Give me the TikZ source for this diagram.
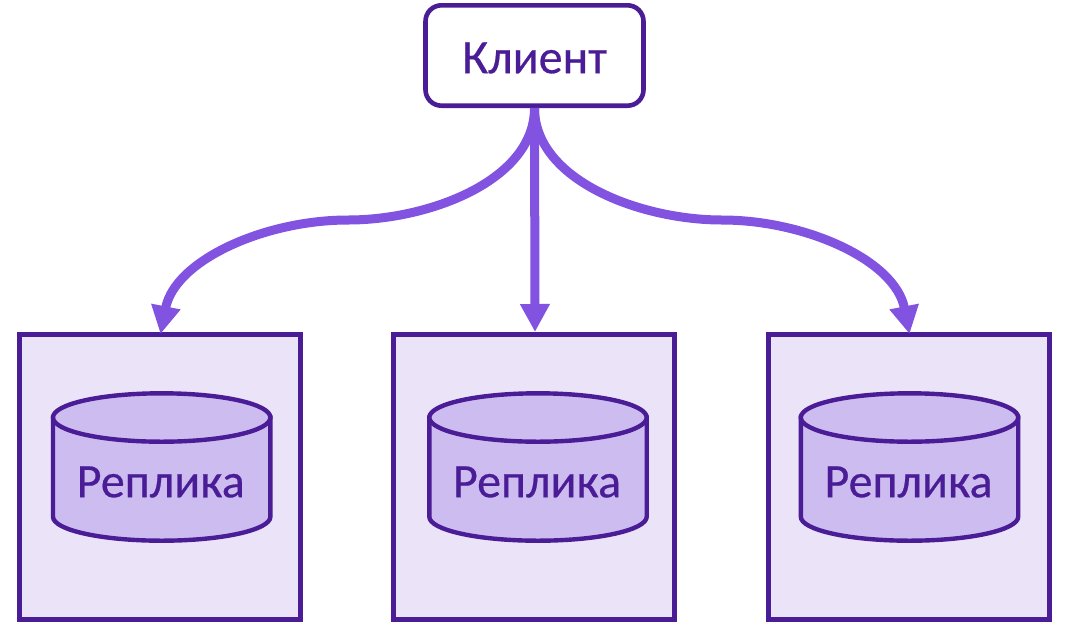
\documentclass[tikz,border=0pt]{standalone}
\usepackage{fontspec}
\setmainfont{Carlito}[FakeBold=0.5]
\usetikzlibrary{arrows.meta}
\definecolor{dk}{HTML}{4A1D96}
\definecolor{arrowc}{HTML}{8253E0}
\definecolor{boxf}{HTML}{EBE4F8}
\definecolor{cylf}{HTML}{CDBCF0}
\tikzset{x=1pt,y=-1pt,
 replbox/.style={draw=dk,fill=boxf,line width=4.6pt,minimum width=281.4pt,minimum height=285.4pt,inner sep=0pt,anchor=north west},
 clientbox/.style={draw=dk,fill=white,line width=4.6pt,rounded corners=16pt,minimum width=218pt,minimum height=100.4pt,inner sep=0pt},
 lab/.style={text=dk,font=\fontsize{48}{48}\selectfont,inner sep=0pt},
 cylline/.style={draw=dk,line width=4.4pt,fill=cylf},
 arr/.style={draw=arrowc,line width=9pt,-{Triangle[length=28pt,width=28pt]}}
}
\begin{document}
\begin{tikzpicture}
\useasboundingbox (0,0) rectangle (1078,638);
\fill[white] (0,0) rectangle (1078,638);
\node[clientbox] (client) at (534.5,55.5) {};
\node[lab] (clientlab) at (534.5,58) {Клиент};
\node[replbox] (b1) at (17,332) {};
\node[replbox] (b2) at (391,332) {};
\node[replbox] (b3) at (766,332) {};
\foreach \n/\cx in {1/161.7,2/538,3/909.5}{
 \draw[cylline] (\cx-108.7,417.5) -- (\cx-108.7,516.7) .. controls (\cx-108.7,530) and (\cx-60,540.7) .. (\cx,540.7) .. controls (\cx+60,540.7) and (\cx+108.7,530) .. (\cx+108.7,516.7) -- (\cx+108.7,417.5) -- cycle;
 \draw[cylline] (\cx-108.7,417.5) .. controls (\cx-108.7,404) and (\cx-60,393.3) .. (\cx,393.3) .. controls (\cx+60,393.3) and (\cx+108.7,404) .. (\cx+108.7,417.5) .. controls (\cx+108.7,431) and (\cx+60,441.7) .. (\cx,441.7) .. controls (\cx-60,441.7) and (\cx-108.7,431) .. (\cx-108.7,417.5) -- cycle;
 \node[lab] (r\n) at (\cx-1,482) {Реплика};
}
\coordinate (t1) at (160.5,334);
\coordinate (t2) at (535,332);
\coordinate (t3) at (909.5,334);
\draw[arr] (client.south) .. controls (534.5,180) and (430,220) .. (348,220) .. controls (265,220) and (175,260) .. (t1);
\draw[arr] (client.south) -- (t2);
\draw[arr] (client.south) .. controls (534.5,180) and (640,220) .. (722,220) .. controls (805,220) and (895,260) .. (t3);
\end{tikzpicture}
\end{document}
